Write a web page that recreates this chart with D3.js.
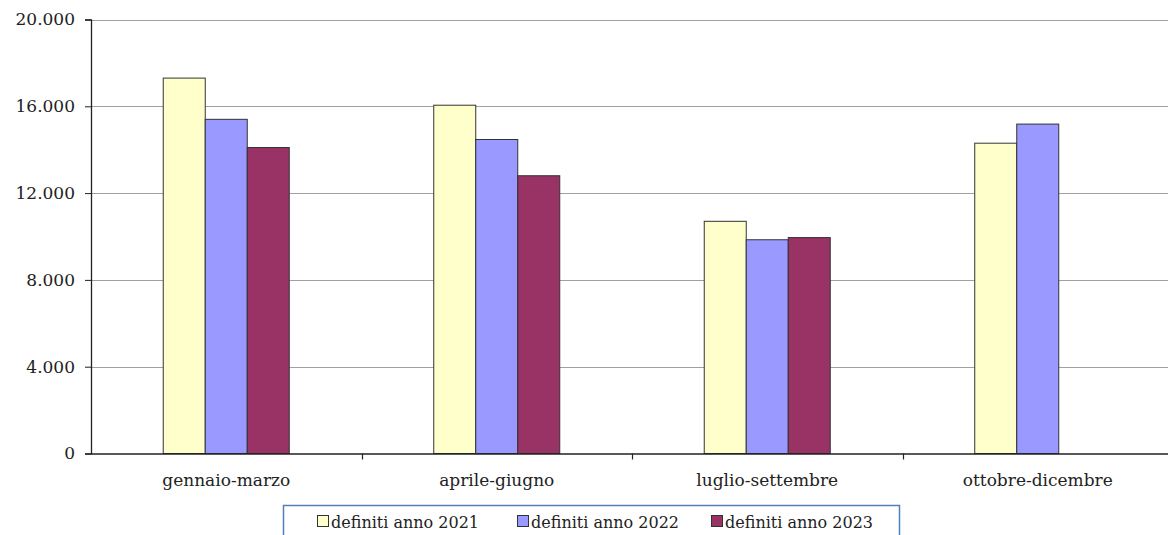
<!DOCTYPE html>
<html>
<head>
<meta charset="utf-8">
<script src="https://cdn.jsdelivr.net/npm/d3@7"></script>
<style>
  html, body { margin: 0; padding: 0; background: #fff; }
  svg { display: block; }
</style>
</head>
<body>
<svg id="chart" width="1168" height="535"></svg>
<script>
const categories = ["gennaio-marzo", "aprile-giugno", "luglio-settembre", "ottobre-dicembre"];
const seriesNames = ["definiti anno 2021", "definiti anno 2022", "definiti anno 2023"];
const values2021 = [17300, 16050, 10700, 14300];
const values2022 = [15400, 14470, 9850, 15180];
const values2023 = [14100, 12800, 9950, null];
const yTicks = [0, 4000, 8000, 12000, 16000, 20000];
const colors = ["#ffffcc", "#9999ff", "#993366"];

const FONT = "DejaVu Serif";
const seriesValues = [values2021, values2022, values2023];
const svg = d3.select("#chart");
const x0 = 91, x1 = 1173, yTop = 19.5, yBot = 453.5;

const x = d3.scaleBand().domain(categories).range([x0, x1]).paddingInner(0).paddingOuter(0);
const xs = d3.scaleBand().domain(d3.range(3)).range([0, x.bandwidth()]).paddingInner(0).paddingOuter(1.72);
const y = d3.scaleLinear().domain([0, 20000]).range([yBot, yTop]);

const fmt = v => d3.format(",")(v).replace(/,/g, ".");

svg.append("g").selectAll("line").data(yTicks.filter(t => t > 0)).join("line")
  .attr("x1", x0).attr("x2", 1168)
  .attr("y1", d => Math.round(y(d)) + 0.5).attr("y2", d => Math.round(y(d)) + 0.5)
  .attr("stroke", "#a0a0a0").attr("stroke-width", 1.2);

categories.forEach((c, ci) => {
  seriesValues.forEach((vals, si) => {
    const v = vals[ci];
    if (v == null) return;
    svg.append("rect")
      .attr("x", x(c) + xs(si))
      .attr("y", y(v))
      .attr("width", xs.bandwidth())
      .attr("height", y(0) - y(v))
      .attr("fill", colors[si])
      .attr("stroke", "#333").attr("stroke-width", 1);
  });
});

const yAxis = d3.axisLeft(y).tickValues(yTicks).tickFormat(fmt).tickSize(6).tickPadding(10);
const gy = svg.append("g").attr("transform", `translate(${x0},0)`).call(yAxis);
gy.attr("font-family", FONT).attr("font-size", 17);
gy.select(".domain").attr("stroke", "#222").attr("stroke-width", 1.3);
gy.selectAll(".tick line").attr("stroke", "#222");
gy.selectAll(".tick text").attr("fill", "#222");

const xAxis = d3.axisBottom(x).tickSize(0).tickPadding(20);
const gx = svg.append("g").attr("transform", `translate(0,${yBot})`).call(xAxis);
gx.attr("font-family", FONT).attr("font-size", 17);
gx.select(".domain").attr("stroke", "#222").attr("stroke-width", 1.3);
gx.selectAll(".tick text").attr("fill", "#222");
svg.append("g").selectAll("line").data(categories.slice(1)).join("line")
  .attr("x1", d => Math.round(x(d)) + 0.5).attr("x2", d => Math.round(x(d)) + 0.5)
  .attr("y1", yBot).attr("y2", yBot + 6).attr("stroke", "#222").attr("stroke-width", 1.2);

const lg = svg.append("g").attr("font-family", FONT).attr("font-size", 16);
lg.append("rect").attr("x", 283.5).attr("y", 505.5).attr("width", 616).attr("height", 40)
  .attr("fill", "#fff").attr("stroke", "#4f81bd").attr("stroke-width", 1.5);
const legX = [317, 517, 711];
seriesNames.forEach((n, i) => {
  lg.append("rect").attr("x", legX[i] + 0.5).attr("y", 515.5).attr("width", 11).attr("height", 11)
    .attr("fill", colors[i]).attr("stroke", "#333");
  lg.append("text").attr("x", legX[i] + 14).attr("y", 528).attr("fill", "#222").text(n);
});
</script>
</body>
</html>
